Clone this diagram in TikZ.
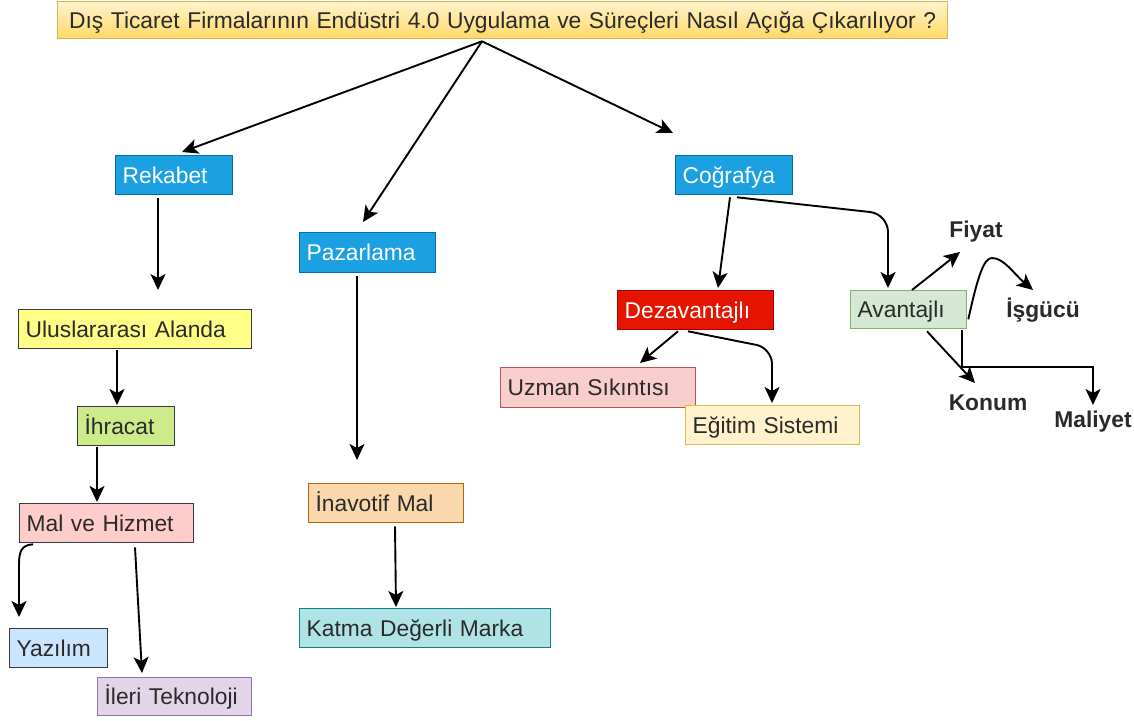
\documentclass[tikz,border=0pt]{standalone}
\usepackage{fontspec}
\setmainfont{Liberation Sans}
\usetikzlibrary{arrows.meta,calc}

\definecolor{txt}{HTML}{2A2A2A}
\definecolor{ttop}{HTML}{FFF2CC}
\definecolor{tbot}{HTML}{FFD966}
\definecolor{tline}{HTML}{D6B656}
\definecolor{blueF}{HTML}{1BA1E2}
\definecolor{blueL}{HTML}{006EAF}
\definecolor{redF}{HTML}{E51400}
\definecolor{redL}{HTML}{B20000}
\definecolor{grnF}{HTML}{D5E8D4}
\definecolor{grnL}{HTML}{82B366}
\definecolor{pinkF}{HTML}{F8CECC}
\definecolor{pinkL}{HTML}{B85450}
\definecolor{creamF}{HTML}{FFF2CC}
\definecolor{creamL}{HTML}{D6B656}
\definecolor{yelF}{HTML}{FFFF88}
\definecolor{darkL}{HTML}{36393D}
\definecolor{limeF}{HTML}{CDEB8B}
\definecolor{roseF}{HTML}{FFCCCC}
\definecolor{skyF}{HTML}{CCE5FF}
\definecolor{lilF}{HTML}{E1D5E7}
\definecolor{lilL}{HTML}{9673A6}
\definecolor{orF}{HTML}{FAD7AC}
\definecolor{orL}{HTML}{B46504}
\definecolor{tealF}{HTML}{B0E3E6}
\definecolor{tealL}{HTML}{0E8088}

\newcommand{\lblfont}{\fontsize{22.8}{27}\selectfont}

\tikzset{
  bx/.style={draw, line width=1.3pt, anchor=north west, inner xsep=7pt, inner ysep=0pt,
    align=left, font=\lblfont, text=txt, text height=19pt, text depth=3pt},
  lbl/.style={font=\lblfont\bfseries, text=txt, inner sep=0pt},
  arr/.style={draw=black, line width=1.9pt,
    -{Stealth[length=16pt,width=15pt,inset=4pt]}}
}

\begin{document}
\begin{tikzpicture}[x=1pt,y=-1pt]
\useasboundingbox (0,0) rectangle (1134,720);
\fill[white] (0,0) rectangle (1134,720);

% title
\node[bx, align=center, text width=876pt, minimum height=37pt, draw=tline,
      top color=ttop, bottom color=tbot] (title) at (57,1)
  {Dış Ticaret Firmalarının Endüstri 4.0 Uygulama ve Süreçleri Nasıl Açığa Çıkarılıyor ?};

% main branches
\node[bx, fill=blueF, draw=blueL, text=white, text width=103pt, minimum height=39pt] (rek) at (115,155) {Rekabet};
\node[bx, fill=blueF, draw=blueL, text=white, text width=122pt, minimum height=40pt] (paz) at (299,232) {Pazarlama};
\node[bx, fill=blueF, draw=blueL, text=white, text width=103pt, minimum height=39pt] (cog) at (675,155) {Coğrafya};

% geography branch
\node[bx, fill=redF, draw=redL, text=white, text width=142pt, minimum height=39pt] (dez) at (617,290) {Dezavantajlı};
\node[bx, fill=grnF, draw=grnL, text width=102pt, minimum height=38pt] (avan) at (850,290) {Avantajlı};
\node[bx, fill=pinkF, draw=pinkL, text width=181pt, minimum height=40pt] (uzm) at (500,367) {Uzman Sıkıntısı};
\node[bx, fill=creamF, draw=creamL, text width=160pt, minimum height=39pt] (egt) at (685,405) {Eğitim Sistemi};

\node[lbl] (fiy) at (976,232) {Fiyat};
\node[lbl] (isg) at (1043,310) {İşgücü};
\node[lbl] (kon) at (988,403) {Konum};
\node[lbl] (mly) at (1093,422) {Maliyet};

% competition branch
\node[bx, fill=yelF, draw=darkL, text width=219pt, minimum height=39pt] (ulus) at (18,309) {Uluslararası Alanda};
\node[bx, fill=limeF, draw=darkL, text width=83pt, minimum height=39pt] (ihr) at (77,406) {İhracat};
\node[bx, fill=roseF, draw=darkL, text width=160pt, minimum height=39pt] (mal) at (19,503) {Mal ve Hizmet};
\node[bx, fill=skyF, draw=darkL, text width=84pt, minimum height=39pt] (yaz) at (9,628) {Yazılım};
\node[bx, fill=lilF, draw=lilL, text width=140pt, minimum height=38pt] (ileri) at (97,677) {İleri Teknoloji};

% marketing branch
\node[bx, fill=orF, draw=orL, text width=141pt, minimum height=39pt] (inav) at (308,483) {İnavotif Mal};
\node[bx, fill=tealF, draw=tealL, text width=237pt, minimum height=39pt] (katma) at (299,608) {Katma Değerli Marka};

\coordinate (rekend) at (158,290);

% connectors from the title
\draw[arr] ($(title.south west)+(425,2)$) -- ($(rek.north west)+(67,-3)$);
\draw[arr] ($(title.south west)+(425,2)$) -- ($(paz.north west)+(64,-10)$);
\draw[arr] ($(title.south west)+(425,2)$) -- ($(cog.north west)+(-2,-22)$);

% competition connectors
\draw[arr] ($(rek.south west)+(43,3)$) -- (rekend);
\draw[arr] ($(ulus.south west)+(99,1)$) -- ($(ihr.north west)+(40,-1)$);
\draw[arr] ($(ihr.south west)+(20,1)$) -- ($(mal.north west)+(78,-1)$);
\draw[arr] ($(mal.south west)+(14,1)$) .. controls (21,545) and (19,552) .. (19,565)
  -- ($(yaz.north west)+(10,-11)$);
\draw[arr] ($(mal.south west)+(116,4)$) -- ($(ileri.north west)+(45,-4)$);

% marketing connectors
\draw[arr] ($(paz.south west)+(58,3)$) -- ($(inav.north west)+(49,-23)$);
\draw[arr] ($(inav.south west)+(87,3)$) -- ($(katma.north west)+(97,-1)$);

% geography connectors
\draw[arr] ($(cog.south west)+(55,2)$) -- ($(dez.north west)+(101,-2)$);
\draw[arr, rounded corners=18pt] ($(cog.south west)+(62,2)$) -- (888,214) -- ($(avan.north west)+(38,-2)$);
\draw[arr] ($(dez.south west)+(61,1)$) -- ($(uzm.north west)+(140,-4)$);
\draw[arr, rounded corners=16pt] ($(dez.south west)+(71,1)$) -- (772,348) -- ($(egt.north west)+(87,-2)$);

% advantage connectors
\draw[arr] ($(avan.north west)+(62,0)$) -- ($(fiy.center)+(-16,20)$);
\draw[arr] ($(avan.south east)+(1,-10)$) .. controls (978,275) and (984,258) .. (992,258)
  .. controls (1004,258) and (1014,274) .. ($(isg.center)+(-10,-20)$);
\draw[arr] ($(avan.south west)+(77,2)$) -- ($(kon.center)+(-13,-20)$);
\draw[arr] ($(avan.south west)+(112,1)$) -- (962,367) -- (1093,367) -- ($(mly.center)+(0,-17)$);
\end{tikzpicture}
\end{document}
